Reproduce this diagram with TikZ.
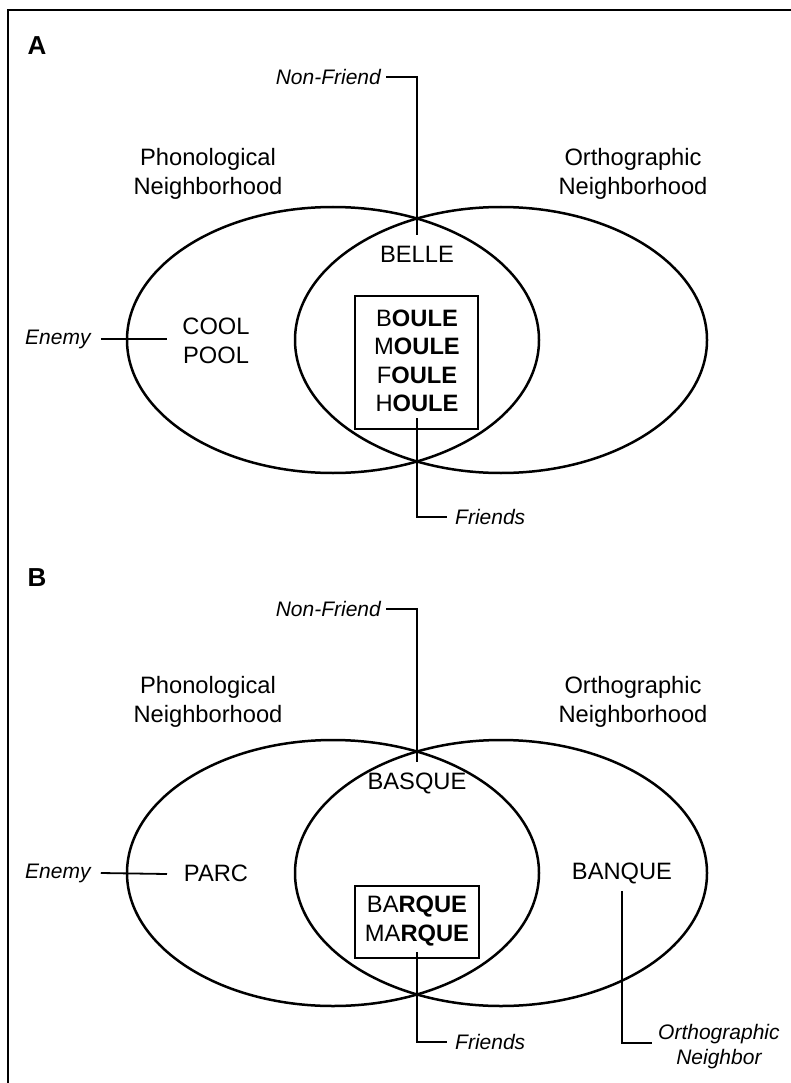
\documentclass[tikz,border=0pt]{standalone}
\usepackage{fontspec}
\setmainfont{Liberation Sans}
\begin{document}
\begin{tikzpicture}[x=1pt,y=-1pt,
  word/.style={font=\fontsize{23.7}{29}\selectfont, inner sep=0pt, align=center},
  boxword/.style={font=\fontsize{23.7}{28.5}\selectfont, inner sep=0pt, align=center},
  lab/.style={font=\fontsize{21}{25}\selectfont\itshape, inner sep=0pt, align=center},
  panel/.style={font=\fontsize{26}{30}\selectfont\bfseries, inner sep=0pt},
  lead/.style={line width=1.8pt},
  ell/.style={line width=2.5pt},
  framest/.style={line width=2.2pt},
  boxst/.style={draw, line width=2.8pt, inner sep=0pt}
]
\useasboundingbox (0,0) rectangle (791,1083);
\draw[framest] (8,1090) -- (8,10) -- (795,10);

% ---------------- Panel A ----------------
\node[panel] (pA) at (37,46) {A};
\node[lab, anchor=east] (nfA) at (381,77) {Non-Friend};
\coordinate (nfAc) at (417,77);
\coordinate (nfAe) at (417,235);
\draw[lead] ([xshift=5pt]nfA.east) -- (nfAc) -- (nfAe);

\node[word] (phonA) at (208,174) {Phonological\\Neighborhood};
\node[word] (orthA) at (633,174) {Orthographic\\Neighborhood};

\draw[ell] (333,340) ellipse [x radius=206pt, y radius=133pt];
\draw[ell] (501,340) ellipse [x radius=206pt, y radius=133pt];

\node[word] (belle) at (417,254) {BELLE};
\node[word] (cool) at (216,341) {COOL\\POOL};
\node[lab, anchor=west] (enA) at (25,339) {Enemy};
\coordinate (enAe) at (167,339);
\draw[lead] ([xshift=10pt]enA.east) -- (enAe);

\node[boxst, minimum width=123pt, minimum height=133pt] (boxA) at (416.5,362.5) {};
\node[boxword] (wordsA) at (417,361) {B\textbf{OULE}\\M\textbf{OULE}\\F\textbf{OULE}\\H\textbf{OULE}};
\coordinate (frAs) at (417,418);
\node[lab, anchor=west] (frA) at (455,517) {Friends};
\draw[lead] (frAs) |- ([xshift=-8pt]frA.west);

% ---------------- Panel B ----------------
\node[panel] (pB) at (37,578) {B};
\node[lab, anchor=east] (nfB) at (381,609) {Non-Friend};
\coordinate (nfBc) at (417,609);
\coordinate (nfBe) at (417,762);
\draw[lead] ([xshift=5pt]nfB.east) -- (nfBc) -- (nfBe);

\node[word] (phonB) at (208,702) {Phonological\\Neighborhood};
\node[word] (orthB) at (633,702) {Orthographic\\Neighborhood};

\draw[ell] (333,873) ellipse [x radius=206pt, y radius=133pt];
\draw[ell] (501,873) ellipse [x radius=206pt, y radius=133pt];

\node[word] (basque) at (417,783) {BASQUE};
\node[word] (parc) at (216,873) {PARC};
\node[lab, anchor=west] (enB) at (25,873) {Enemy};
\coordinate (enBe) at (167,874);
\draw[lead] ([xshift=10pt]enB.east) -- (enBe);

\node[word] (banque) at (622,873) {BANQUE};
\coordinate (onBs) at (622,891);
\node[lab, anchor=west] (onB) at (658,1047) {Orthographic\\Neighbor};
\draw[lead] (onBs) |- ([xshift=-6pt]onB.west |- 0,1043);

\node[boxst, minimum width=124pt, minimum height=72pt] (boxB) at (417,922) {};
\node[boxword] (wordsB) at (417,921) {BA\textbf{RQUE}\\MA\textbf{RQUE}};
\coordinate (frBs) at (417,952);
\node[lab, anchor=west] (frB) at (455,1042) {Friends};
\draw[lead] (frBs) |- ([xshift=-8pt]frB.west);
\end{tikzpicture}
\end{document}
